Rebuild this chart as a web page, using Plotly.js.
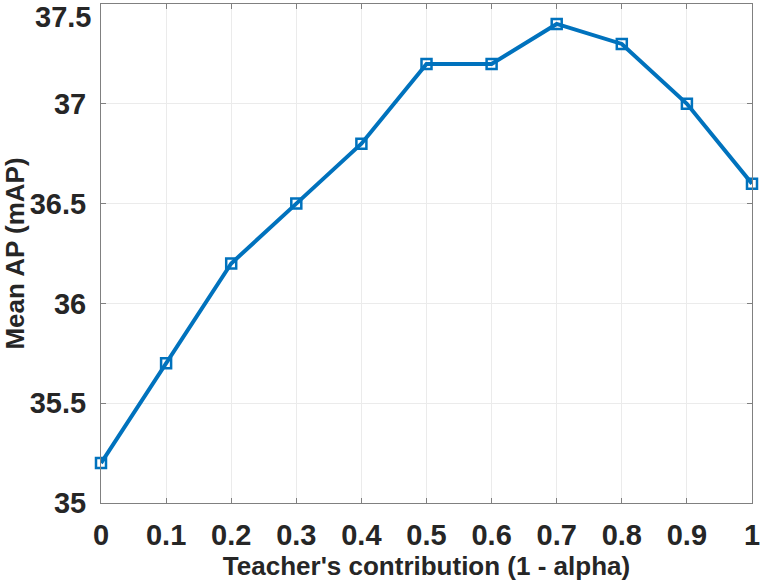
<!DOCTYPE html>
<html>
<head>
<meta charset="utf-8">
<script src="https://cdn.plot.ly/plotly-3.0.1.min.js"></script>
<style>html,body{margin:0;padding:0;background:#fff;}#chart{width:761px;height:581px;}</style>
</head>
<body>
<div id="chart"></div>
<script>
const alphaContribution = [0, 0.1, 0.2, 0.3, 0.4, 0.5, 0.6, 0.7, 0.8, 0.9, 1];
const meanAP = [35.2, 35.7, 36.2, 36.5, 36.8, 37.2, 37.2, 37.4, 37.3, 37.0, 36.6];
const xTickVals = [0, 0.1, 0.2, 0.3, 0.4, 0.5, 0.6, 0.7, 0.8, 0.9, 1];
const xTickText = ['0', '0.1', '0.2', '0.3', '0.4', '0.5', '0.6', '0.7', '0.8', '0.9', '1'];
const yTickVals = [35, 35.5, 36, 36.5, 37, 37.5];
const yTickText = ['35', '35.5', '36', '36.5', '37', ''];
const yTopLabel = '37.5';

const fontFam = 'Liberation Sans, Arial, Helvetica, sans-serif';
const tickSize = 29;
const trace = {
  x: alphaContribution,
  y: meanAP,
  type: 'scatter',
  mode: 'lines+markers',
  line: {color: '#0072BD', width: 4},
  marker: {symbol: 'square-open', size: 10, color: '#0072BD', line: {color: '#0072BD', width: 2.5}},
  cliponaxis: false,
  hoverinfo: 'skip'
};
const axisCommon = {
  showline: true, linecolor: '#808080', linewidth: 1, mirror: 'allticks',
  ticks: 'inside', ticklen: 5, tickcolor: '#808080', tickwidth: 1,
  showgrid: true, gridcolor: '#ebebeb', gridwidth: 1,
  zeroline: false,
  ticklabeloverflow: 'allow',
  tickfont: {family: fontFam, size: tickSize, color: '#262626', weight: 'bold'}
};
const layout = {
  width: 761, height: 581,
  margin: {l: 101, r: 9, t: 4, b: 78},
  paper_bgcolor: '#fff', plot_bgcolor: '#fff',
  showlegend: false,
  font: {family: fontFam, color: '#262626'},
  xaxis: Object.assign({}, axisCommon, {
    range: [0, 1], tickmode: 'array', tickvals: xTickVals, ticktext: xTickText,
    ticklabelstandoff: 6,
    title: {text: "<b>Teacher's contribution (1 - alpha)</b>", font: {family: fontFam, size: 26, color: '#262626'}, standoff: 1}
  }),
  yaxis: Object.assign({}, axisCommon, {
    range: [35, 37.5], tickmode: 'array', tickvals: yTickVals, ticktext: yTickText,
    ticklabelstandoff: 8,
    title: {text: '<b>Mean AP (mAP)</b>', font: {family: fontFam, size: 26, color: '#262626'}, standoff: 0}
  }),
  annotations: [{
    xref: 'paper', yref: 'y', x: 0, y: 37.5, xanchor: 'right', yanchor: 'top',
    xshift: -8, yshift: 5, showarrow: false, text: '<b>' + yTopLabel + '</b>',
    font: {family: fontFam, size: tickSize, color: '#262626'}
  }]
};
Plotly.newPlot('chart', [trace], layout, {displayModeBar: false, staticPlot: true});
</script>
</body>
</html>
